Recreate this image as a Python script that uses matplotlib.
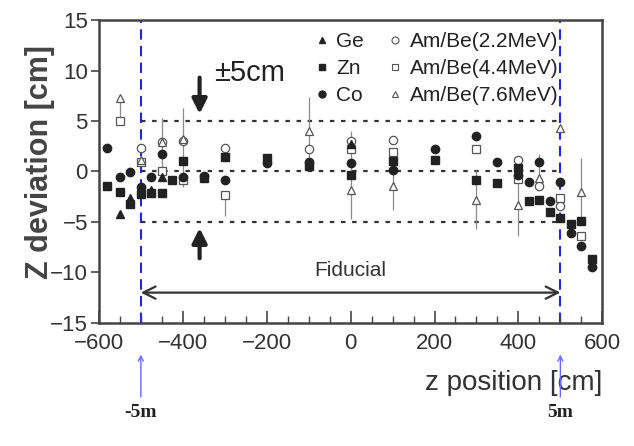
import numpy as np
import matplotlib
matplotlib.use("Agg")
import matplotlib.pyplot as plt
from matplotlib.lines import Line2D
from matplotlib.ticker import MultipleLocator

plt.rcParams['font.family'] = ['Liberation Sans', 'DejaVu Sans']

# Ge (filled triangle)
ge_z = [-550, -525, -475, -450, 0]
ge_dev = [-4.2, -2.6, -1.8, -0.5, 2.7]

# Zn (filled square)
zn_z = [-580, -550, -525, -500, -475, -450, -425, -400, -350, -300, -200, -100, 0, 100,
        200, 300, 350, 400, 425, 450, 475, 500, 525, 550, 575]
zn_dev = [-1.4, -2.0, -3.2, -2.2, -2.1, -2.1, -0.8, 1.0, -0.6, 1.4, 1.3, 0.5, -0.3, 1.0,
          1.1, -0.8, -1.1, 0.3, -2.9, -2.8, -4.0, -4.6, -5.2, -4.9, -8.7]

# Co (filled circle)
co_z = [-580, -550, -525, -500, -475, -450, -400, -350, -300, -200, -100, 0, 100, 200,
        300, 350, 400, 425, 450, 475, 500, 525, 550, 575]
co_dev = [2.3, -0.5, -0.1, -1.5, -0.5, 1.7, -0.5, -0.4, -0.8, 0.8, 0.9, 0.8, 0.1, 2.2,
          3.5, 0.9, -0.3, -1.0, 0.9, -2.9, -1.0, -6.1, -7.4, -9.5]

# Am/Be 2.2 MeV (open circle)
a22_z = [-500, -450, -400, -300, -100, 0, 100, 400, 450, 500]
a22_dev = [2.3, 2.9, 3.0, 2.3, 2.2, 3.0, 3.1, 1.1, -1.4, -3.4]
a22_lo = [0, 3.0, 0, 0, 0, 0, 0, 0, 0, 0]
a22_hi = [0, 2.4, 0, 0, 0, 0, 0, 0, 0, 0]

# Am/Be 4.4 MeV (open square)
a44_z = [-550, -500, -450, -400, -300, 0, 100, 300, 400, 500, 550]
a44_dev = [5.0, 0.9, 0.0, -0.8, -2.3, 2.2, 1.9, 2.2, -0.7, -2.6, -6.4]
a44_lo = [0, 0, 0, 0, 2.1, 0, 0, 0, 0, 0, 0]
a44_hi = [0, 0, 0, 0, 0, 0, 0, 0, 0, 0, 0]

# Am/Be 7.6 MeV (open triangle)
a76_z = [-550, -500, -450, -400, -100, 0, 100, 300, 400, 450, 500, 550]
a76_dev = [7.3, 1.1, 2.9, 3.2, 4.0, -1.8, -1.4, -2.8, -3.3, -0.6, 4.3, -2.0]
a76_lo = [2.1, 0, 0, 4.7, 3.4, 2.9, 2.4, 2.9, 3.1, 1.2, 0, 3.3]
a76_hi = [0, 0, 0, 3.1, 3.4, 5.8, 2.4, 2.9, 3.1, 2.3, 0, 3.3]

text_col = '#333333'
fig = plt.figure(figsize=(6.34, 4.46), dpi=100)
ax = fig.add_axes([0.156, 0.276, 0.794, 0.679])

# guide lines
ax.axvline(-500, color='#2626d6', ls=(0, (5, 3)), lw=1.5, zorder=1)
ax.axvline(500, color='#2626d6', ls=(0, (5, 3)), lw=1.5, zorder=1)
ax.hlines([5, 0, -5], -500, 500, colors='#333333', linestyles=(0, (2, 3)), lw=1.6, zorder=1)

# error bars
for z, d, lo, hi in [(a22_z, a22_dev, a22_lo, a22_hi),
                     (a44_z, a44_dev, a44_lo, a44_hi),
                     (a76_z, a76_dev, a76_lo, a76_hi)]:
    ax.errorbar(z, d, yerr=[lo, hi], fmt='none', ecolor='#8a8a8a', elinewidth=0.9,
                capsize=0, zorder=2)

ms = 6
open_kw = dict(ls='none', mfc='white', mec='#555555', mew=0.9, ms=ms, zorder=3)
ax.plot(a22_z, a22_dev, marker='o', **open_kw)
ax.plot(a44_z, a44_dev, marker='s', **open_kw)
ax.plot(a76_z, a76_dev, marker='^', **open_kw)

fill_kw = dict(ls='none', color='#222222', ms=ms, zorder=4)
ax.plot(zn_z, zn_dev, marker='s', **fill_kw)
ax.plot(co_z, co_dev, marker='o', **fill_kw)
ax.plot(ge_z, ge_dev, marker='^', **fill_kw)

# annotations
ax.text(-240, 9.8, '±5cm', fontsize=21, color='#222222', ha='center', va='center')
ax.annotate('', xy=(-360, 5.7), xytext=(-360, 9.3),
            arrowprops=dict(arrowstyle='-|>', lw=3, color='#222222', mutation_scale=22,
                            shrinkA=0, shrinkB=0))
ax.annotate('', xy=(-360, -5.6), xytext=(-360, -8.6),
            arrowprops=dict(arrowstyle='-|>', lw=3, color='#222222', mutation_scale=22,
                            shrinkA=0, shrinkB=0))
ax.annotate('', xy=(-500, -12.0), xytext=(500, -12.0),
            arrowprops=dict(arrowstyle='<->', lw=1.6, color='#333333', mutation_scale=22,
                            shrinkA=0, shrinkB=0))
ax.text(0, -9.8, 'Fiducial', fontsize=15, color=text_col, ha='center', va='center')

# blue markers below the axis
for zpos, lab in [(-500, '-5m'), (500, '5m')]:
    ax.annotate('', xy=(zpos, 0.205), xytext=(zpos, 0.11),
                xycoords=('data', 'figure fraction'), textcoords=('data', 'figure fraction'),
                annotation_clip=False,
                arrowprops=dict(arrowstyle='->', lw=1.0, color='#6b6bff', mutation_scale=9,
                                shrinkA=0, shrinkB=0))
    ax.annotate(lab, xy=(zpos, 0.075), xycoords=('data', 'figure fraction'),
                annotation_clip=False, ha='center', va='center', fontsize=14,
                fontweight='bold', family=['Liberation Serif', 'DejaVu Serif'], color='#222222')

ax.set_xlim(-600, 600)
ax.set_ylim(-15, 15)
ax.xaxis.set_major_locator(MultipleLocator(200))
ax.xaxis.set_minor_locator(MultipleLocator(50))
ax.yaxis.set_major_locator(MultipleLocator(5))
ax.tick_params(axis='x', which='major', direction='in', length=9, width=1.2,
               labelsize=16, labelcolor=text_col, color='#444444', pad=7)
ax.tick_params(axis='x', which='minor', direction='in', length=5, width=1.0, color='#444444')
ax.tick_params(axis='y', which='major', direction='out', length=6, width=1.2,
               labelsize=16, labelcolor=text_col, color='#444444', pad=2)
for sp in ax.spines.values():
    sp.set_color('#444444')
    sp.set_linewidth(1.8)

ax.set_ylabel('Z deviation [cm]', fontsize=22, fontweight='bold', color='#444444')
ax.yaxis.set_label_coords(-0.087, 0.53)
ax.set_xlabel('z position [cm]', fontsize=20, color=text_col)
ax.xaxis.set_label_coords(1.0, -0.155)
ax.xaxis.label.set_ha('right')

# legend
def h(marker, filled):
    if filled:
        return Line2D([], [], ls='none', marker=marker, color='#222222', ms=5)
    return Line2D([], [], ls='none', marker=marker, mfc='white', mec='#555555', mew=0.8, ms=5)

handles = [h('^', True), h('s', True), h('o', True), h('o', False), h('s', False), h('^', False)]
labels = ['Ge', 'Zn', 'Co', 'Am/Be(2.2MeV)', 'Am/Be(4.4MeV)', 'Am/Be(7.6MeV)']
ax.legend(handles, labels, ncol=2, loc='upper left', bbox_to_anchor=(0.43, 0.96),
          frameon=False, fontsize=15, handlelength=0.6, handletextpad=0.4,
          columnspacing=1.2, labelspacing=0.38, borderpad=0, borderaxespad=0,
          labelcolor='#222222')

fig.savefig('out.png', dpi=100)
